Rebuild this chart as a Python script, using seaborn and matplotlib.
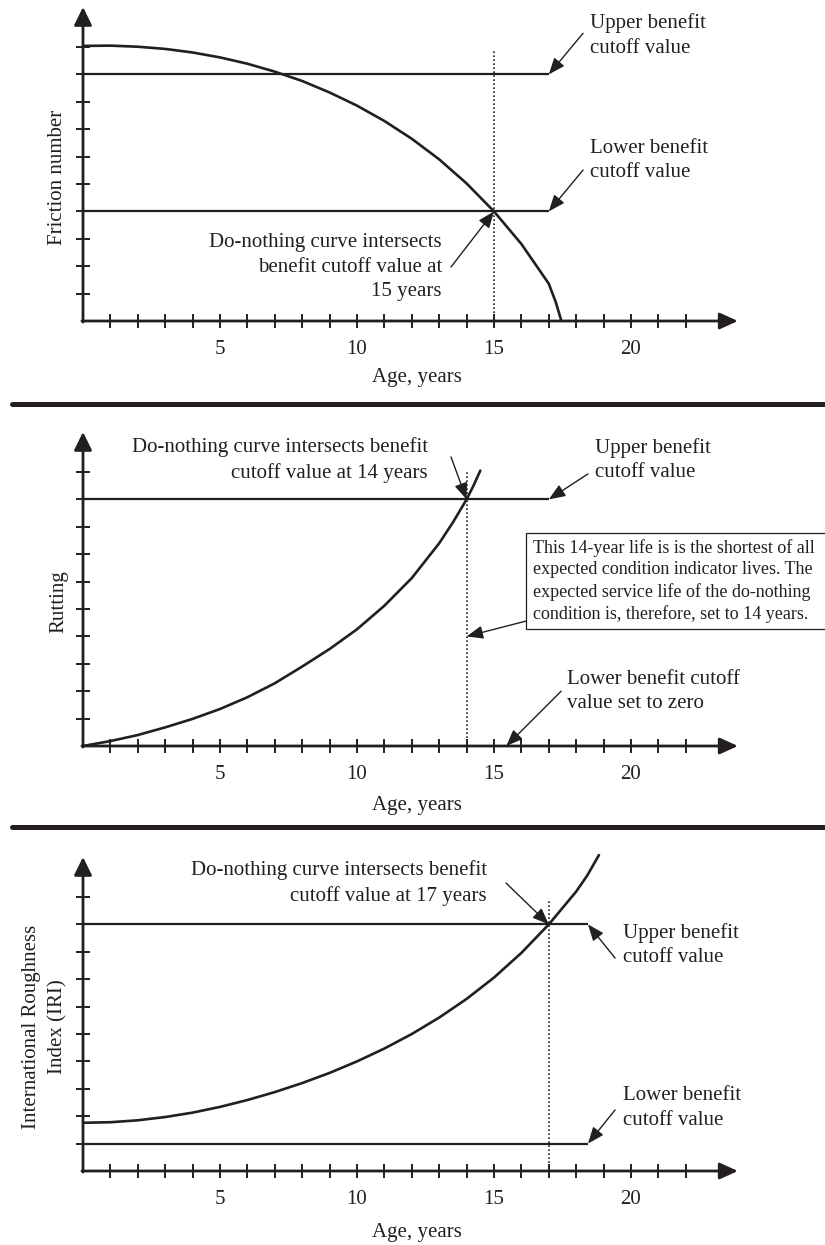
import matplotlib
matplotlib.use("Agg")
import matplotlib.pyplot as plt
from matplotlib.lines import Line2D
from matplotlib.patches import Rectangle
import seaborn as sns

# ---------------- data ----------------
friction_age = [0, 1, 2, 3, 4, 5, 6, 7, 8, 9, 10, 11, 12, 13, 14, 15, 16, 17, 17.25, 17.46]
friction_value = [10.04, 10.05, 10.01, 9.93, 9.80, 9.62, 9.39, 9.10, 8.76, 8.34, 7.86, 7.30,
                  6.65, 5.90, 5.02, 4.0, 2.81, 1.36, 0.70, 0.0]

rutting_age = [0, 1, 2, 3, 4, 5, 6, 7, 8, 9, 10, 11, 12, 13, 13.5, 14, 14.25, 14.5]
rutting_value = [0.0, 0.18, 0.40, 0.68, 0.99, 1.35, 1.78, 2.29, 2.90, 3.54, 4.26, 5.12,
                 6.13, 7.40, 8.16, 9.0, 9.5, 10.05]

iri_age = [0, 1, 2, 3, 4, 5, 6, 7, 8, 9, 10, 11, 12, 13, 14, 15, 16, 17, 18, 18.4, 18.83]
iri_value = [1.76, 1.78, 1.85, 1.97, 2.13, 2.34, 2.59, 2.88, 3.21, 3.58, 4.00, 4.47, 5.00,
             5.60, 6.28, 7.06, 7.96, 9.0, 10.2, 10.78, 11.53]

friction_upper, friction_lower, friction_cut_end, friction_life = 9, 4, 17, 15
rutting_upper, rutting_cut_end, rutting_life = 9, 17, 14
iri_upper, iri_lower, iri_cut_end, iri_life = 9, 1, 18.43, 17

x_ticks = list(range(1, 23))
x_tick_labels = [str(t) if t in (5, 10, 15, 20) else "" for t in x_ticks]
y_ticks = list(range(1, 11))

y_labels = ["Friction number", "Rutting", "International Roughness\nIndex (IRI)"]
x_label = "Age, years"

# ---------------- style ----------------
sns.set_theme(style="white")
plt.rcParams["font.family"] = ["Liberation Serif", "DejaVu Serif"]
INK = "#231f20"
FS = 15
LS = 1.37

W, H = 825, 1245
fig = plt.figure(figsize=(W / 100, H / 100), dpi=100)
fig.patch.set_facecolor("white")

SCALE = 27.4          # px per unit
XMAX, YMAX = 27.0, 11.7
ORIG_X = 83
origins_y = [321, 746, 1171]


def make_ax(oy):
    ax = fig.add_axes([ORIG_X / W, (H - oy) / H, XMAX * SCALE / W, YMAX * SCALE / H])
    ax.set_xlim(0, XMAX)
    ax.set_ylim(0, YMAX)
    ax.set_facecolor("none")
    for s in ax.spines.values():
        s.set_visible(False)
    ax.grid(False)
    ax.set_xticks(x_ticks)
    ax.set_xticklabels(x_tick_labels, fontsize=FS, color=INK)
    ax.set_yticks(y_ticks)
    ax.set_yticklabels([])
    ax.tick_params(axis="both", direction="inout", length=10.5, width=1.4,
                   color=INK, pad=8.6, bottom=True, left=True)
    ax.annotate("", xy=(23.9, 0), xytext=(-0.04, 0),
                arrowprops=dict(arrowstyle="-|>,head_length=0.55,head_width=0.25",
                                mutation_scale=20, lw=2.0, color=INK, shrinkA=0, shrinkB=0),
                annotation_clip=False)
    ax.annotate("", xy=(0, 11.46), xytext=(0, -0.04),
                arrowprops=dict(arrowstyle="-|>,head_length=0.55,head_width=0.27",
                                mutation_scale=20, lw=2.0, color=INK, shrinkA=0, shrinkB=0),
                annotation_clip=False)
    return ax


def arrow(ax, head, tail):
    ax.annotate("", xy=head, xytext=tail,
                arrowprops=dict(arrowstyle="-|>,head_length=0.5,head_width=0.2",
                                mutation_scale=20, lw=1.0, color=INK, shrinkA=0, shrinkB=0),
                annotation_clip=False)


def note(ax, x, y, s, ha="left", **kw):
    ax.text(x, y, s, fontsize=kw.pop("fontsize", FS), color=INK, ha=ha, va="center",
            multialignment=ha if ha != "center" else "center",
            linespacing=kw.pop("linespacing", LS), clip_on=False, **kw)


def hline(ax, y, x1):
    ax.plot([0, x1], [y, y], color=INK, lw=1.6, clip_on=False, solid_capstyle="butt")


def vdot(ax, x, y1):
    ax.plot([x, x], [0, y1], color=INK, lw=1.2, ls=(0, (1, 1.4)), clip_on=False)


def curve(ax, xs, ys):
    sns.lineplot(x=xs, y=ys, ax=ax, color=INK, lw=1.9, clip_on=False,
                 estimator=None, sort=False, legend=False)


# ---------------- panel 1: friction ----------------
ax1 = make_ax(origins_y[0])
hline(ax1, friction_upper, friction_cut_end)
hline(ax1, friction_lower, friction_cut_end)
vdot(ax1, friction_life, 9.9)
curve(ax1, friction_age, friction_value)
note(ax1, 18.5, 10.42, "Upper benefit\ncutoff value")
arrow(ax1, (17, 9), (18.25, 10.5))
note(ax1, 18.5, 5.85, "Lower benefit\ncutoff value")
arrow(ax1, (17, 4), (18.25, 5.51))
note(ax1, 13.1, 1.97, "Do-nothing curve intersects\nbenefit cutoff value at\n15 years", ha="right")
arrow(ax1, (15, 4), (13.43, 1.97))

# ---------------- panel 2: rutting ----------------
ax2 = make_ax(origins_y[1])
hline(ax2, rutting_upper, rutting_cut_end)
vdot(ax2, rutting_life, 10.0)
curve(ax2, rutting_age, rutting_value)
note(ax2, 12.59, 10.44, "Do-nothing curve intersects benefit\ncutoff value at 14 years", ha="right")
arrow(ax2, (14, 9), (13.43, 10.55))
note(ax2, 18.69, 10.45, "Upper benefit\ncutoff value")
arrow(ax2, (17, 9), (18.43, 9.93))
ax2.add_patch(Rectangle((16.17, 4.27), 12.0, 3.5, fc="white", ec=INK, lw=0.9, clip_on=False))
note(ax2, 16.42, 6.02,
     "This 14-year life is is the shortest of all\nexpected condition indicator lives. The\n"
     "expected service life of the do-nothing\ncondition is, therefore, set to 14 years.",
     fontsize=13, linespacing=1.32)
arrow(ax2, (14, 4.0), (16.17, 4.56))
note(ax2, 17.66, 2.0, "Lower benefit cutoff\nvalue set to zero")
arrow(ax2, (15.45, 0), (17.45, 2.0))

# ---------------- panel 3: IRI ----------------
ax3 = make_ax(origins_y[2])
hline(ax3, iri_upper, iri_cut_end)
hline(ax3, iri_lower, iri_cut_end)
vdot(ax3, iri_life, 9.93)
curve(ax3, iri_age, iri_value)
note(ax3, 14.74, 10.51, "Do-nothing curve intersects benefit\ncutoff value at 17 years", ha="right")
arrow(ax3, (17, 9), (15.44, 10.51))
note(ax3, 19.71, 8.25, "Upper benefit\ncutoff value")
arrow(ax3, (18.43, 9), (19.42, 7.77))
note(ax3, 19.71, 2.3, "Lower benefit\ncutoff value")
arrow(ax3, (18.43, 1), (19.42, 2.23))

# ---------------- labels ----------------
label_x = [-0.034, -0.032, -0.0514]
xlabel_y = [-0.147, -0.156, -0.163]
for ax, lab, lx, xy in zip([ax1, ax2, ax3], y_labels, label_x, xlabel_y):
    ax.set_ylabel(lab, fontsize=FS, color=INK, va="center", ha="center", multialignment="center",
                  linespacing=1.48)
    ax.yaxis.set_label_coords(lx, 0.449)
    ax.set_xlabel(x_label, fontsize=FS, color=INK, va="top")
    ax.xaxis.set_label_coords(0.4515, xy)

# ---------------- separators ----------------
for yp in [404, 827]:
    fig.add_artist(Line2D([12 / W, 1.0], [(H - yp) / H] * 2, transform=fig.transFigure,
                          color=INK, lw=3.6, solid_capstyle="round"))

fig.savefig("out.png", dpi=100, facecolor="white")
